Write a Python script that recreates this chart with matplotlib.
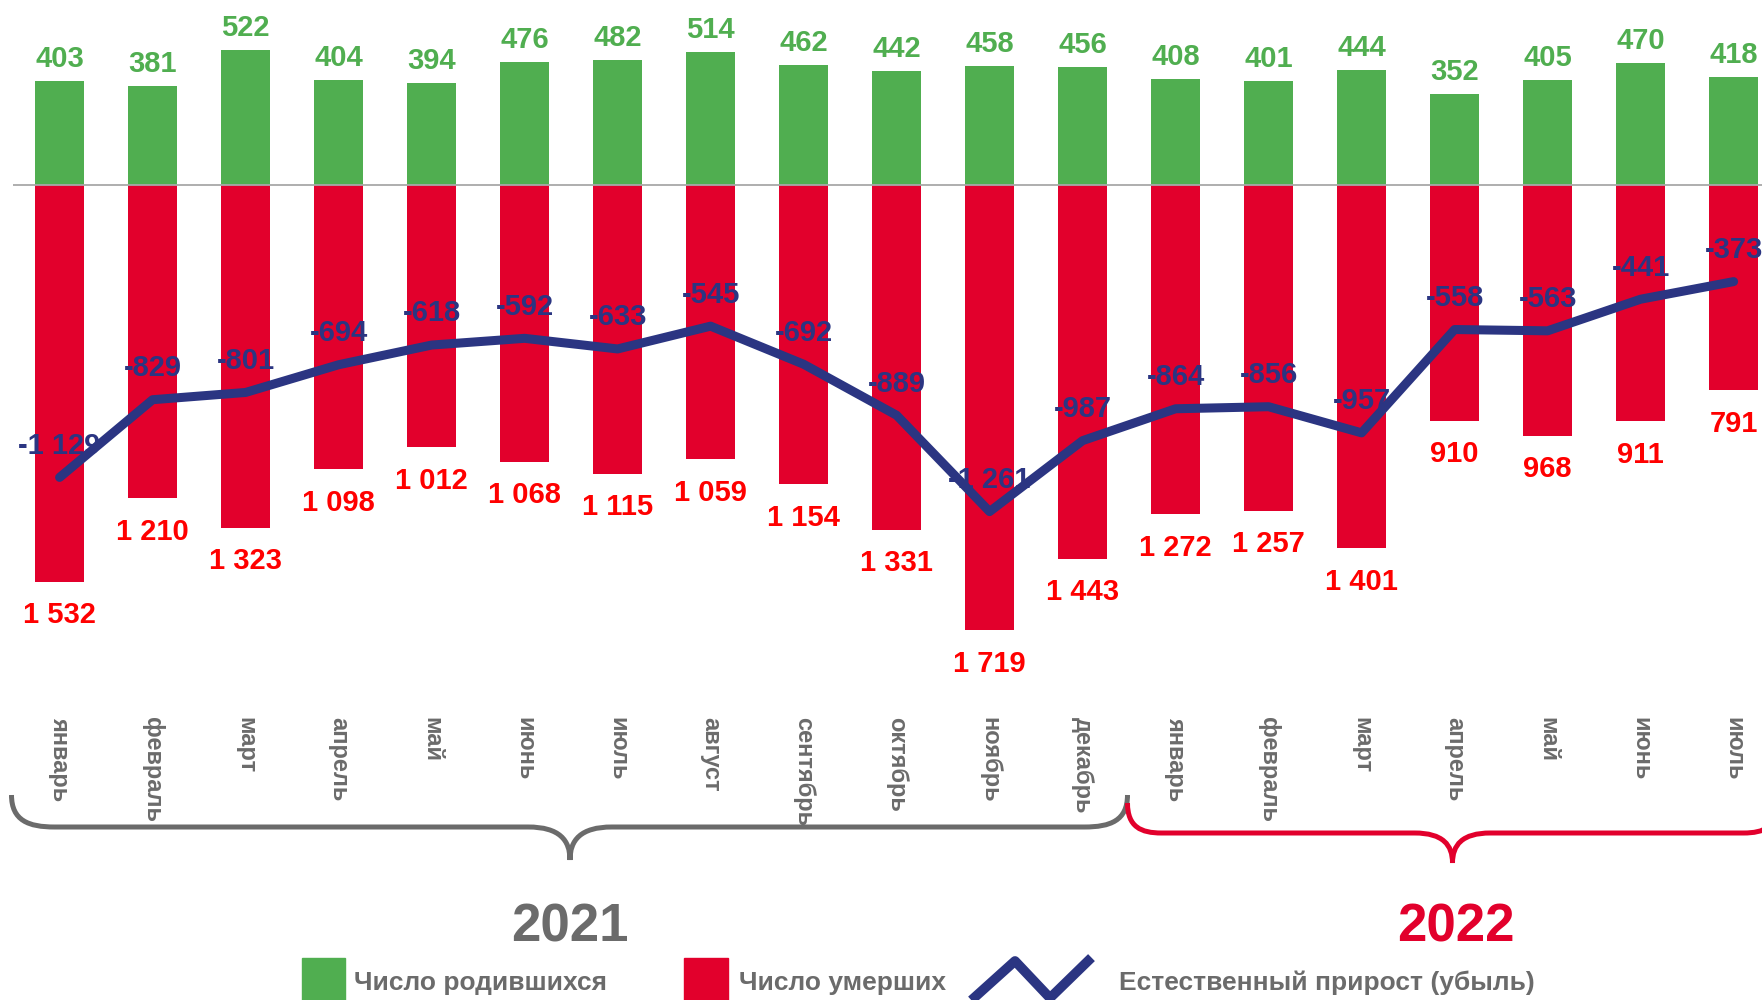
import matplotlib
matplotlib.use("Agg")
import matplotlib.pyplot as plt
from matplotlib.path import Path
from matplotlib.patches import PathPatch, Rectangle
from matplotlib.lines import Line2D

plt.rcParams['font.family'] = ['Liberation Sans', 'DejaVu Sans']

months = ["январь", "февраль", "март", "апрель", "май", "июнь", "июль", "август",
          "сентябрь", "октябрь", "ноябрь", "декабрь",
          "январь", "февраль", "март", "апрель", "май", "июнь", "июль"]
births = [403, 381, 522, 404, 394, 476, 482, 514, 462, 442, 458, 456,
          408, 401, 444, 352, 405, 470, 418]
deaths = [1532, 1210, 1323, 1098, 1012, 1068, 1115, 1059, 1154, 1331, 1719, 1443,
          1272, 1257, 1401, 910, 968, 911, 791]
natural = [-1129, -829, -801, -694, -618, -592, -633, -545, -692, -889, -1261, -987,
           -864, -856, -957, -558, -563, -441, -373]
years = ["2021", "2022"]
legend_labels = ["Число родившихся", "Число умерших", "Естественный прирост (убыль)"]

GREEN = "#50AE50"
RED = "#E2002C"
LABEL_RED = "#FF0000"
NAVY = "#2B3582"
GRAY = "#6B6B6B"

W, H = 1762, 1000
fig = plt.figure(figsize=(W / 100, H / 100), dpi=100)

# axes: from top of figure down to 717 px (where month labels start)
ax_bottom_px = 717
ax = fig.add_axes([0, 1 - ax_bottom_px / H, 1, ax_bottom_px / H])
scale = 0.259  # px per unit
base_px = 185
ax.set_ylim(-(ax_bottom_px - base_px) / scale, base_px / scale)
ax.set_xlim(-59.6 / 93, (W - 59.6) / 93)
for s in ax.spines.values():
    s.set_visible(False)

x = list(range(len(months)))

def fmt(v):
    return f"{v:,}".replace(",", " ")

ax.bar(x, births, width=0.53, color=GREEN, zorder=2)
ax.bar(x, [-d for d in deaths], width=0.53, color=RED, zorder=2)
ax.hlines(0, -0.5, 19, color="#A8A8A8", lw=1.3, zorder=3)
ax.plot(x, natural, color=NAVY, lw=6.5, solid_capstyle='round',
        solid_joinstyle='round', zorder=4)

for i in x:
    ax.annotate(fmt(births[i]), (i, births[i]), xytext=(0, 10), textcoords='offset points',
                ha='center', va='baseline', color=GREEN, fontsize=21, fontweight='bold', zorder=5)
    ax.annotate(fmt(deaths[i]), (i, -deaths[i]), xytext=(0, -30), textcoords='offset points',
                ha='center', va='baseline', color=LABEL_RED, fontsize=21, fontweight='bold', zorder=5)
    ax.annotate(fmt(natural[i]), (i, natural[i]), xytext=(0, 17), textcoords='offset points',
                ha='center', va='baseline', color=NAVY, fontsize=21, fontweight='bold', zorder=6)

ax.set_yticks([])
ax.set_xticks(x)
ax.set_xticklabels(months, rotation=270, color=GRAY, fontsize=17, fontweight='bold')
ax.tick_params(axis='x', length=0, pad=0)


def px(xp, yp):
    return (xp / W, 1 - yp / H)


def brace(x0, x1, xt, yl, ye, yt, r, r2, color):
    verts = [
        (x0, ye), (x0, ye + (yl - ye) * 0.8), (x0 + r * 0.4, yl), (x0 + r, yl),
        (xt - r2, yl),
        (xt - r2 * 0.25, yl), (xt, yl + (yt - yl) * 0.4), (xt, yt),
        (xt, yl + (yt - yl) * 0.4), (xt + r2 * 0.25, yl), (xt + r2, yl),
        (x1 - r, yl),
        (x1 - r * 0.4, yl), (x1, ye + (yl - ye) * 0.8), (x1, ye),
    ]
    codes = [Path.MOVETO, Path.CURVE4, Path.CURVE4, Path.CURVE4,
             Path.LINETO,
             Path.CURVE4, Path.CURVE4, Path.CURVE4,
             Path.CURVE4, Path.CURVE4, Path.CURVE4,
             Path.LINETO,
             Path.CURVE4, Path.CURVE4, Path.CURVE4]
    p = Path([px(a, b) for a, b in verts], codes)
    fig.add_artist(PathPatch(p, facecolor='none', edgecolor=color, lw=3.6,
                             transform=fig.transFigure, clip_on=False))


brace(11.5, 1127.5, 570, 827, 795, 860, 43, 42, GRAY)
brace(1127.5, 1777.5, 1452.5, 833, 803, 863, 34, 38, RED)

fig.text(*px(570, 928), years[0], ha='center', va='center', color=GRAY,
         fontsize=38, fontweight='bold')
fig.text(*px(1456, 928), years[1], ha='center', va='center', color=RED,
         fontsize=38, fontweight='bold')

# legend
fig.add_artist(Rectangle(px(302, 1000), 43 / W, 42 / H, color=GREEN,
                         transform=fig.transFigure))
fig.add_artist(Rectangle(px(684, 1000), 44 / W, 42 / H, color=RED,
                         transform=fig.transFigure))
zx = [975, 1015, 1050, 1088]
zy = [997, 961, 998, 961]
fig.add_artist(Line2D([a / W for a in zx], [1 - b / H for b in zy], color=NAVY, lw=7,
                      transform=fig.transFigure))
for xp, lab in zip([354, 739, 1119], legend_labels):
    fig.text(*px(xp, 983), lab, ha='left', va='center', color=GRAY,
             fontsize=19, fontweight='bold')

fig.savefig("out.png", dpi=100)
